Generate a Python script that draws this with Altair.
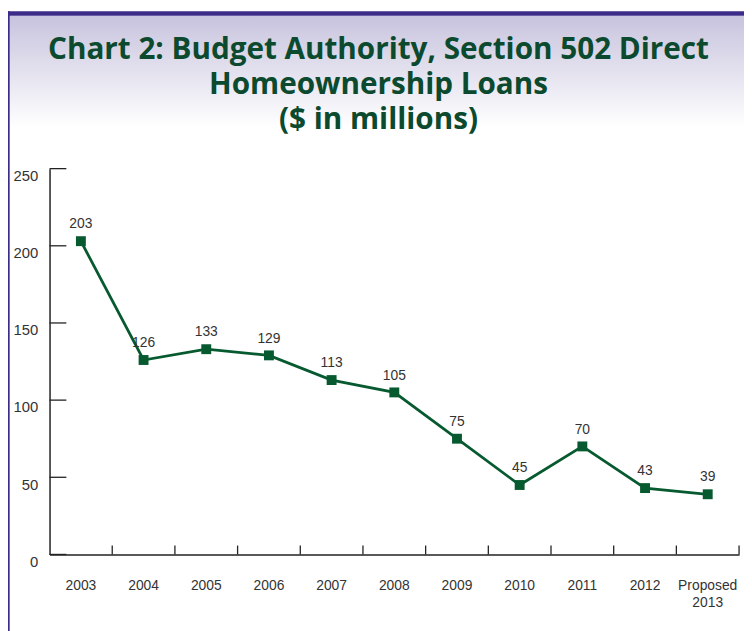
import altair as alt
import pandas as pd

years = ["2003", "2004", "2005", "2006", "2007", "2008", "2009", "2010", "2011", "2012", "Proposed 2013"]
values = [203, 126, 133, 129, 113, 105, 75, 45, 70, 43, 39]
y_ticks = [0, 50, 100, 150, 200, 250]
title_lines = ["Chart 2: Budget Authority, Section 502 Direct", "Homeownership Loans", "($ in millions)"]

df = pd.DataFrame({"year": years, "value": values})

W, H = 697, 390
PT = 159
GREEN = "#075a30"

xscale = alt.Scale(domain=years, paddingInner=0, paddingOuter=0)
yscale = alt.Scale(domain=[0, 250], nice=False)

x_axis = alt.Axis(title=None, ticks=False, labelAngle=0, labelPadding=24, grid=False,
                  labelFontSize=14, labelColor="#333333", labelFont="Liberation Sans",
                  domainColor="#222222", domainWidth=1.5, labelLineHeight=18,
                  labelBaseline="top",
                  labelExpr="datum.label == 'Proposed 2013' ? ['Proposed', '2013'] : datum.label")
y_axis = alt.Axis(title=None, ticks=False, values=y_ticks, labelPadding=12,
                  labelOffset=7, labelFontSize=15, labelColor="#333333",
                  labelFont="Liberation Sans", domainColor="#222222", domainWidth=1.5,
                  grid=False)

XE = dict(scale=xscale, sort=years, axis=x_axis)
YE = dict(scale=yscale, axis=y_axis)

base = alt.Chart(df)
one = alt.Data(values=[{}])

bg = alt.Chart(one).mark_rect(
    color=alt.Gradient(
        gradient="linear",
        stops=[alt.GradientStop(color="#c8c3de", offset=0),
               alt.GradientStop(color="#ffffff", offset=1)],
        x1=0, x2=0, y1=0, y2=1),
    strokeWidth=0,
).encode(x=alt.value(-42), x2=alt.value(702), y=alt.value(-PT + 4.5), y2=alt.value(-42))

top_border = alt.Chart(one).mark_rect(color="#3d2b8a", strokeWidth=0).encode(
    x=alt.value(-42), x2=alt.value(702), y=alt.value(-PT), y2=alt.value(-PT + 4.5))
left_border = alt.Chart(one).mark_rect(color="#3d2b8a", strokeWidth=0).encode(
    x=alt.value(-42), x2=alt.value(-40.3), y=alt.value(-PT), y2=alt.value(470))

title = alt.Chart(one).mark_text(
    text=title_lines, font="Open Sans", fontSize=30, fontWeight="bold", color="#0b4a2e",
    align="center", baseline="alphabetic", lineHeight=35.5,
).encode(x=alt.value(332.5), y=alt.value(56 - 8 - PT))

ytick_df = pd.DataFrame({"v": y_ticks})
yticks = alt.Chart(ytick_df).mark_rule(color="#222222", strokeWidth=1.3).encode(
    y=alt.Y("v:Q", **YE), x=alt.value(0), x2=alt.value(17))

xtick_df = pd.DataFrame({"year": years})
xticks = alt.Chart(xtick_df).mark_rule(color="#222222", strokeWidth=1.3).encode(
    x=alt.X("year:N", bandPosition=1, **XE),
    y=alt.value(H), y2=alt.value(H - 9))

line = base.mark_line(color=GREEN, strokeWidth=2.8).encode(
    x=alt.X("year:N", **XE), y=alt.Y("value:Q", **YE))
points = base.mark_square(color=GREEN, size=100, opacity=1).encode(
    x=alt.X("year:N", **XE), y=alt.Y("value:Q", **YE))
labels = base.mark_text(dy=-17, fontSize=14, color="#333333", font="Liberation Sans").encode(
    x=alt.X("year:N", **XE), y=alt.Y("value:Q", **YE),
    text="value:Q")

chart = alt.layer(bg, top_border, left_border, title, line, yticks, xticks, points, labels).properties(
    width=W, height=H,
    background="white",
    autosize=alt.AutoSizeParams(type="none"),
    padding={"left": 42, "top": PT, "right": 5, "bottom": 74},
).configure_view(strokeWidth=0, stroke="transparent").configure_axis(grid=False)

chart.save("out.html", embed_options={"renderer": "svg", "actions": False})
